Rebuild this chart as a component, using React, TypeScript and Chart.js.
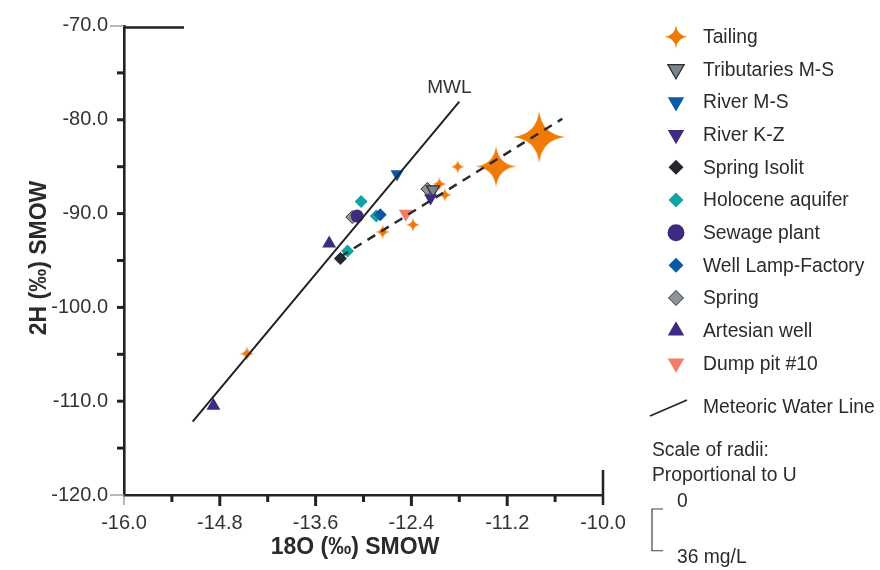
import React, { useEffect, useRef } from 'react';
import { Chart, registerables } from 'chart.js';

Chart.register(...registerables);

const FONT = '"Liberation Sans", Arial, Helvetica, sans-serif';

// ---- axes ----
const X_MIN = -16;
const X_MAX = -10;
const Y_MIN = -120;
const Y_MAX = -70;
const X_TICKS = [-16, -15.4, -14.8, -14.2, -13.6, -13.0, -12.4, -11.8, -11.2, -10.6, -10];
const X_LABELS = [-16, -14.8, -13.6, -12.4, -11.2, -10];
const Y_TICKS = [-120, -115, -110, -105, -100, -95, -90, -85, -80, -75, -70];
const Y_LABELS = [-120, -110, -100, -90, -80, -70];
const X_TITLE = '18O (‰) SMOW';
const Y_TITLE = '2H (‰) SMOW';

// ---- series (18O, 2H) ----
const TAILING_X = [-10.8, -11.34, -11.82, -12.05, -11.98, -12.38, -12.76, -14.46];
const TAILING_Y = [-81.83, -84.97, -85.0, -86.85, -88.01, -91.19, -91.96, -104.94];
const TAILING_U = [22.4, 17.7, 5.8, 6.0, 5.8, 6.0, 6.2, 6.2]; // mg/L
const TRIB_X = [-12.13];
const TRIB_Y = [-87.44];
const RIVER_MS_X = [-12.58];
const RIVER_MS_Y = [-85.79];
const RIVER_KZ_X = [-12.16];
const RIVER_KZ_Y = [-88.33];
const ISOLIT_X = [-13.29];
const ISOLIT_Y = [-94.78];
const HOLOCENE_X = [-13.03, -12.84, -13.2];
const HOLOCENE_Y = [-88.71, -90.26, -94.0];
const SEWAGE_X = [-13.08];
const SEWAGE_Y = [-90.26];
const WELL_X = [-12.79];
const WELL_Y = [-90.13];
const SPRING_X = [-13.14, -12.2];
const SPRING_Y = [-90.37, -87.38];
const ARTESIAN_X = [-13.43, -14.88];
const ARTESIAN_Y = [-93.2, -110.48];
const DUMP_X = [-12.47];
const DUMP_Y = [-90.02];
const MWL_X = [-15.14, -11.8];
const MWL_Y = [-112.17, -78.06];
const TREND_X = [-13.29, -10.51];
const TREND_Y = [-94.6, -79.89];

const U_SCALE_MAX = 36; // mg/L shown on the radii scale
const PX_PER_U = 1.16;

const ORANGE = '#f07a06';
const TEXT = '#2b2b2b';

function pts(xs: number[], ys: number[]) {
  return xs.map((x, i) => ({ x, y: ys[i] }));
}

function starPath(g: CanvasRenderingContext2D, cx: number, cy: number, R: number) {
  const c = R * 0.15;
  g.beginPath();
  g.moveTo(cx, cy - R);
  for (let i = 0; i < 4; i++) {
    const a0 = -Math.PI / 2 + (i * Math.PI) / 2;
    const am = a0 + Math.PI / 4;
    const a1 = a0 + Math.PI / 2;
    g.quadraticCurveTo(cx + c * Math.cos(am), cy + c * Math.sin(am), cx + R * Math.cos(a1), cy + R * Math.sin(a1));
  }
  g.closePath();
}

function starCanvas(R: number, color: string) {
  const size = Math.ceil(2 * R + 2);
  const c = document.createElement('canvas');
  c.width = size;
  c.height = size;
  const g = c.getContext('2d')!;
  starPath(g, size / 2, size / 2, R);
  g.fillStyle = color;
  g.fill();
  return c;
}

type Marker = { shape: string; fill: string; stroke?: string; sw?: number; r: number; lr: number };

const SERIES: { label: string; xs: number[]; ys: number[]; m: Marker }[] = [
  { label: 'Tailing', xs: TAILING_X, ys: TAILING_Y, m: { shape: 'star', fill: ORANGE, r: 6, lr: 11.5 } },
  { label: 'Tributaries M-S', xs: TRIB_X, ys: TRIB_Y, m: { shape: 'triDown', fill: '#7b848c', stroke: '#2d2d2d', sw: 1.2, r: 7.5, lr: 9.5 } },
  { label: 'River M-S', xs: RIVER_MS_X, ys: RIVER_MS_Y, m: { shape: 'triDown', fill: '#0b5aa6', r: 7.5, lr: 9.5 } },
  { label: 'River K-Z', xs: RIVER_KZ_X, ys: RIVER_KZ_Y, m: { shape: 'triDown', fill: '#3e2a80', r: 7.5, lr: 9.5 } },
  { label: 'Spring Isolit', xs: ISOLIT_X, ys: ISOLIT_Y, m: { shape: 'diamond', fill: '#23272b', r: 6.5, lr: 7.5 } },
  { label: 'Holocene aquifer', xs: HOLOCENE_X, ys: HOLOCENE_Y, m: { shape: 'diamond', fill: '#12a2a5', r: 6.5, lr: 7.5 } },
  { label: 'Sewage plant', xs: SEWAGE_X, ys: SEWAGE_Y, m: { shape: 'circle', fill: '#3e2a80', r: 6.5, lr: 8.5 } },
  { label: 'Well Lamp-Factory', xs: WELL_X, ys: WELL_Y, m: { shape: 'diamond', fill: '#0a58a3', r: 6.5, lr: 7.5 } },
  { label: 'Spring', xs: SPRING_X, ys: SPRING_Y, m: { shape: 'diamond', fill: '#8c9399', stroke: '#333', sw: 1, r: 6.5, lr: 7.5 } },
  { label: 'Artesian well', xs: ARTESIAN_X, ys: ARTESIAN_Y, m: { shape: 'triUp', fill: '#3e2a80', r: 8, lr: 9.5 } },
  { label: 'Dump pit #10', xs: DUMP_X, ys: DUMP_Y, m: { shape: 'triDown', fill: '#f27b6a', r: 8, lr: 9.5 } },
];

const DRAW_ORDER: Record<string, number> = {
  'Spring': 5,
  'Holocene aquifer': 3,
};

function drawMarker(ctx: CanvasRenderingContext2D, m: Marker, x: number, y: number, r: number) {
  ctx.save();
  ctx.beginPath();
  if (m.shape === 'star') {
    starPath(ctx, x, y, r);
  } else if (m.shape === 'triDown' || m.shape === 'triUp') {
    const base = m.shape === 'triDown' ? Math.PI / 2 : -Math.PI / 2;
    for (let i = 0; i < 3; i++) {
      const a = base + (i * 2 * Math.PI) / 3;
      const px = x + r * Math.cos(a);
      const py = y + r * Math.sin(a);
      if (i === 0) ctx.moveTo(px, py);
      else ctx.lineTo(px, py);
    }
    ctx.closePath();
  } else if (m.shape === 'diamond') {
    ctx.moveTo(x, y - r);
    ctx.lineTo(x + r, y);
    ctx.lineTo(x, y + r);
    ctx.lineTo(x - r, y);
    ctx.closePath();
  } else {
    ctx.arc(x, y, r, 0, Math.PI * 2);
  }
  ctx.fillStyle = m.fill;
  ctx.fill();
  if (m.stroke) {
    ctx.strokeStyle = m.stroke;
    ctx.lineWidth = m.sw || 1;
    ctx.stroke();
  }
  ctx.restore();
}

const decorations = {
  id: 'decorations',
  afterDraw(chart: any) {
    const ctx: CanvasRenderingContext2D = chart.ctx;
    const xs = chart.scales.x;
    const ys = chart.scales.y;
    const { left, top, bottom } = chart.chartArea;
    ctx.save();
    ctx.lineCap = 'butt';
    // y ticks
    Y_TICKS.forEach((v) => {
      const py = ys.getPixelForValue(v);
      ctx.beginPath();
      if (v === Y_MIN || v === Y_MAX) {
        ctx.strokeStyle = '#8a8a8a';
        ctx.lineWidth = 1.2;
        ctx.moveTo(left - 14, py);
      } else {
        ctx.strokeStyle = '#222';
        ctx.lineWidth = 3;
        ctx.moveTo(left - 7, py);
      }
      ctx.lineTo(left, py);
      ctx.stroke();
    });
    // x ticks
    X_TICKS.forEach((v) => {
      const px = xs.getPixelForValue(v);
      ctx.beginPath();
      if (v === X_MIN) {
        ctx.strokeStyle = '#8a8a8a';
        ctx.lineWidth = 1.2;
        ctx.moveTo(px, bottom);
        ctx.lineTo(px, bottom + 10);
      } else if (v === X_MAX) {
        ctx.strokeStyle = '#222';
        ctx.lineWidth = 2.5;
        ctx.moveTo(px, bottom - 25);
        ctx.lineTo(px, bottom + 10);
      } else {
        const major = X_LABELS.includes(v);
        ctx.strokeStyle = '#222';
        ctx.lineWidth = 3;
        ctx.moveTo(px, bottom);
        ctx.lineTo(px, bottom + (major ? 11 : 7));
      }
      ctx.stroke();
    });
    // short top rule
    ctx.beginPath();
    ctx.strokeStyle = '#222';
    ctx.lineWidth = 2.4;
    ctx.moveTo(left, top + 1.5);
    ctx.lineTo(left + 60, top + 1.5);
    ctx.stroke();

    // axis titles
    ctx.fillStyle = '#2a2a2a';
    ctx.font = `bold 23px ${FONT}`;
    ctx.textAlign = 'center';
    ctx.textBaseline = 'middle';
    ctx.fillText(X_TITLE, 355, 548);
    ctx.save();
    ctx.translate(40, 258);
    ctx.rotate(-Math.PI / 2);
    ctx.fillText(Y_TITLE, 0, 0);
    ctx.restore();

    // MWL label
    ctx.fillStyle = '#333';
    ctx.font = `19px ${FONT}`;
    ctx.fillText('MWL', xs.getPixelForValue(MWL_X[1]) - 10, ys.getPixelForValue(MWL_Y[1]) - 14);

    // legend
    const LX = 676;
    const TX = 703;
    const LY0 = 36.7;
    const LDY = 32.66;
    ctx.textAlign = 'left';
    ctx.font = `19.3px ${FONT}`;
    SERIES.forEach((s, i) => {
      const y = LY0 + i * LDY;
      drawMarker(ctx, s.m, LX, y, s.m.lr);
      ctx.fillStyle = TEXT;
      ctx.fillText(s.label, TX, y + 1);
    });
    const ly = LY0 + SERIES.length * LDY + 12;
    ctx.beginPath();
    ctx.strokeStyle = '#222';
    ctx.lineWidth = 1.5;
    ctx.moveTo(650, ly + 8);
    ctx.lineTo(687, ly - 8);
    ctx.stroke();
    ctx.fillStyle = TEXT;
    ctx.fillText('Meteoric Water Line', TX, ly);

    // scale of radii
    ctx.fillText('Scale of radii:', 652, 451);
    ctx.fillText('Proportional to U', 652, 476);
    const by0 = 509;
    const by1 = by0 + U_SCALE_MAX * PX_PER_U;
    ctx.beginPath();
    ctx.strokeStyle = '#444';
    ctx.lineWidth = 1.2;
    ctx.moveTo(663, by0);
    ctx.lineTo(652, by0);
    ctx.lineTo(652, by1);
    ctx.lineTo(663, by1);
    ctx.stroke();
    ctx.fillText('0', 677, by0 - 7);
    ctx.fillText(`${U_SCALE_MAX} mg/L`, 677, by1 + 7);
    ctx.restore();
  },
};

export default function App() {
  const ref = useRef<HTMLCanvasElement>(null);
  useEffect(() => {
    const canvas = ref.current!;
    const pointDatasets = SERIES.map((s, i) => {
      const isStar = s.m.shape === 'star';
      return {
        label: s.label,
        data: pts(s.xs, s.ys),
        order: DRAW_ORDER[s.label] ?? -i,
        pointStyle: isStar
          ? TAILING_U.map((u) => starCanvas(u * PX_PER_U, ORANGE))
          : s.m.shape === 'diamond'
          ? 'rectRot'
          : s.m.shape === 'circle'
          ? 'circle'
          : 'triangle',
        pointRotation: s.m.shape === 'triDown' ? 180 : 0,
        pointRadius: isStar ? TAILING_U.map((u) => u * PX_PER_U) : s.m.r,
        backgroundColor: s.m.fill,
        borderColor: s.m.stroke || s.m.fill,
        borderWidth: s.m.stroke ? s.m.sw : 0,
        showLine: false,
      };
    });
    const lineDatasets = [
      {
        label: 'MWL',
        data: pts(MWL_X, MWL_Y),
        showLine: true,
        borderColor: '#222',
        borderWidth: 2,
        pointRadius: 0,
        order: -100,
      },
      {
        label: 'trend',
        data: pts(TREND_X, TREND_Y),
        showLine: true,
        borderColor: '#2a2a2a',
        borderWidth: 2.5,
        borderDash: [9, 7],
        pointRadius: 0,
        order: -101,
      },
    ];
    const chart = new Chart(canvas, {
      type: 'scatter',
      data: { datasets: [...pointDatasets, ...lineDatasets] as any },
      options: {
        animation: false,
        responsive: false,
        devicePixelRatio: 1,
        layout: { padding: { left: 0, top: 21, right: 277, bottom: 0 } },
        plugins: { legend: { display: false }, tooltip: { enabled: false } },
        scales: {
          x: {
            type: 'linear',
            min: X_MIN,
            max: X_MAX,
            afterBuildTicks: (scale: any) => {
              scale.ticks = X_TICKS.map((v) => ({ value: v }));
            },
            afterFit: (scale: any) => {
              scale.height = 75;
              scale.paddingLeft = 0;
              scale.paddingRight = 0;
            },
            grid: { display: false, drawTicks: false },
            border: { display: true, color: '#222', width: 2.6 },
            ticks: {
              padding: 16,
              color: '#333',
              font: { family: FONT, size: 20 },
              maxRotation: 0,
              autoSkip: false,
              callback: (v: any) => (X_LABELS.includes(Number(v)) ? Number(v).toFixed(1) : ''),
            },
          },
          y: {
            type: 'linear',
            min: Y_MIN,
            max: Y_MAX,
            afterBuildTicks: (scale: any) => {
              scale.ticks = Y_TICKS.map((v) => ({ value: v }));
            },
            afterFit: (scale: any) => {
              scale.width = 124;
              scale.paddingTop = 0;
              scale.paddingBottom = 0;
            },
            grid: { display: false, drawTicks: false },
            border: { display: true, color: '#222', width: 2.6 },
            ticks: {
              padding: 16,
              color: '#333',
              font: { family: FONT, size: 20 },
              autoSkip: false,
              callback: (v: any) => (Y_LABELS.includes(Number(v)) ? Number(v).toFixed(1) : ''),
            },
          },
        },
      },
      plugins: [decorations],
    } as any);
    return () => chart.destroy();
  }, []);
  return (
    <div style={{ position: 'absolute', left: 0, top: 0, width: 880, height: 570 }}>
      <canvas ref={ref} width={880} height={570} style={{ display: 'block', width: 880, height: 570 }} />
    </div>
  );
}
